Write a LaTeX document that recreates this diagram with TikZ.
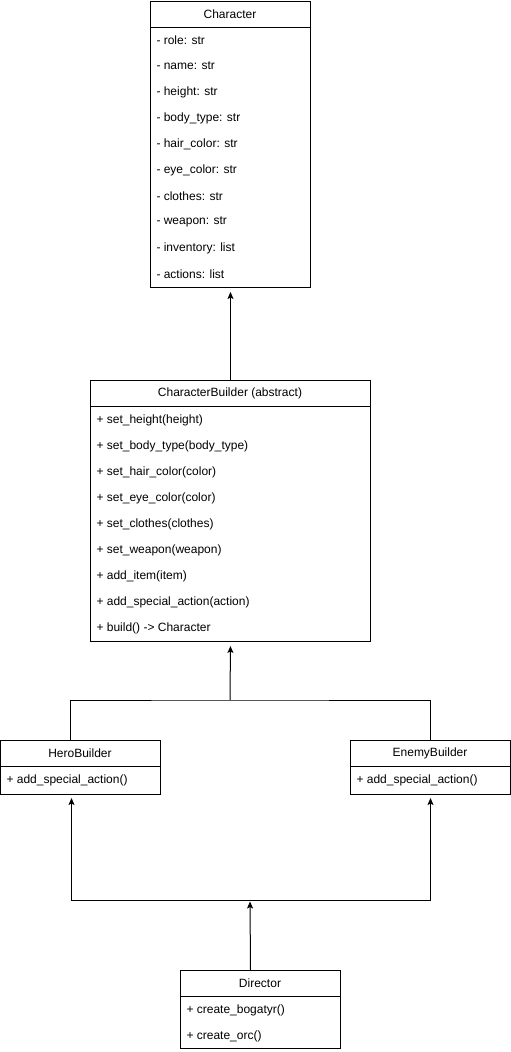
\documentclass[tikz,border=0pt]{standalone}
\usepackage{fontspec}
\setmainfont{Liberation Sans}
\usetikzlibrary{arrows.meta,calc}
\begin{document}
\begin{tikzpicture}[x=1pt,y=-1pt,line width=1pt,
  cls/.style={draw,line width=1pt,anchor=north west,inner sep=0pt},
  hdr/.style={font=\fontsize{12}{14}\selectfont,anchor=center,inner sep=0pt},
  row/.style={font=\fontsize{12}{14}\selectfont,anchor=west,inner sep=0pt},
  arr/.style={-{Stealth[length=7pt,width=6pt,inset=1.5pt]},line width=1pt}]
\useasboundingbox (0,0) rectangle (511,1052);
% Character
\node[cls,minimum width=160pt,minimum height=286pt] (char) at (150,1) {};
\draw (150,27) -- (310,27);
\node[hdr] (charT) at (230,14) {Character};
\foreach \t [count=\i] in {- role: str,- name: str,- height: str,- body\_type: str,- hair\_color: str,- eye\_color: str,- clothes: str,- weapon: str,- inventory: list,- actions: list}
  \node[row] (c\i) at (156,{40+26*(\i-1)}) {\t};
% CharacterBuilder
\node[cls,minimum width=280pt,minimum height=261pt] (cb) at (90,380) {};
\draw (90,406) -- (370,406);
\node[hdr] (cbT) at (230,393) {CharacterBuilder (abstract)};
\foreach \t [count=\i] in {+ set\_height(height),+ set\_body\_type(body\_type),+ set\_hair\_color(color),+ set\_eye\_color(color),+ set\_clothes(clothes),+ set\_weapon(weapon),+ add\_item(item),+ add\_special\_action(action),+ build() -> Character}
  \node[row] (b\i) at (96,{420+26*(\i-1)}) {\t};
% HeroBuilder
\node[cls,minimum width=160pt,minimum height=54pt] (hero) at (0,740) {};
\draw (0,766) -- (160,766);
\node[hdr] (heroT) at (80,753) {HeroBuilder};
\node[row] (h1) at (6,780) {+ add\_special\_action()};
% EnemyBuilder
\node[cls,minimum width=160pt,minimum height=54pt] (enemy) at (350,740) {};
\draw (350,766) -- (510,766);
\node[hdr] (enemyT) at (430,753) {EnemyBuilder};
\node[row] (e1) at (356,780) {+ add\_special\_action()};
% Director
\node[cls,minimum width=160pt,minimum height=78pt] (dir) at (180,970) {};
\draw (180,996) -- (340,996);
\node[hdr] (dirT) at (260,983) {Director};
\node[row] (d1) at (186,1010) {+ create\_bogatyr()};
\node[row] (d2) at (186,1036) {+ create\_orc()};
% connectors
\draw[arr,shorten >=4pt] (cb.north) -- (char.south);
\coordinate (j1) at (230,700);
\draw ([xshift=-10pt]hero.north) |- (j1) -| (enemy.north);
\draw[arr,shorten >=4pt] (j1) -- (cb.south);
\coordinate (j2) at (250,900);
\draw[arr,shorten >=3pt] (j2) -| ([xshift=-9pt]hero.south);
\draw[arr,shorten >=3pt] (j2) -| (enemy.south);
\draw[arr,shorten >=1.5pt] ([xshift=-10pt]dir.north) -- (j2);
\end{tikzpicture}
\end{document}
